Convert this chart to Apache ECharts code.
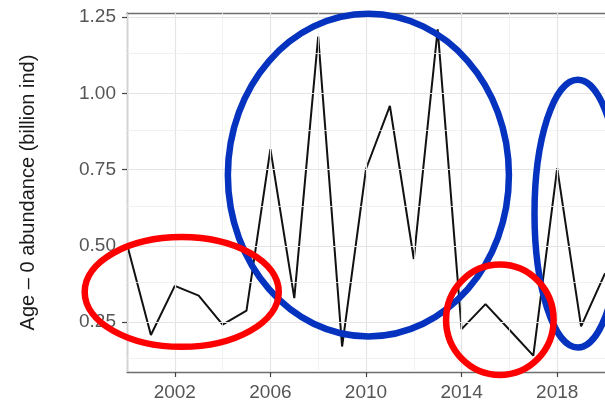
<!DOCTYPE html>
<html><head><meta charset="utf-8">
<script src="https://cdn.jsdelivr.net/npm/echarts@6/dist/echarts.min.js"></script>
<style>html,body{margin:0;padding:0;background:#fff}#c{width:605px;height:410px}</style>
</head><body><div id="c"></div>
<script>
// ---- data ----
const years = [2000,2001,2002,2003,2004,2005,2006,2007,2008,2009,2010,2011,2012,2013,2014,2015,2016,2017,2018,2019,2020];
const abundance = [0.505,0.208,0.369,0.337,0.242,0.288,0.817,0.329,1.186,0.170,0.752,0.959,0.457,1.210,0.227,0.309,0.225,0.140,0.755,0.236,0.41];
const xTickValues = [2002,2006,2010,2014,2018];
const xMinorGrid = [2000,2004,2008,2012,2016,2020];
const yTickValues = [0.25,0.50,0.75,1.00,1.25];
const yMinorGrid = [0.125,0.375,0.625,0.875,1.125];
const yTitle = 'Age \u2013 0 abundance (billion ind)';
// annotation ellipses (data units): centre year, centre value, radius in years, radius in value
const ellipseCX = [2010.10, 2018.86, 2002.29, 2015.60];
const ellipseCY = [0.732, 0.606, 0.349, 0.258];
const ellipseRX = [5.88, 1.81, 4.06, 2.25];
const ellipseRY = [0.529, 0.439, 0.180, 0.181];
const ellipseColor = ['#0532be', '#0532be', '#ff0000', '#ff0000'];

const yMin = 0.0865, yMax = 1.2635;
const xMin = 2000, xMax = 2020;

const chart = echarts.init(document.getElementById('c'), null, {renderer: 'canvas'});
const font = '"Liberation Sans", Arial, Helvetica, sans-serif';

const gridLines = [];
xTickValues.forEach(v => gridLines.push({xAxis: v, lineStyle: {color: '#e4e4e4', width: 1.2, type: 'solid'}}));
xMinorGrid.forEach(v => gridLines.push({xAxis: v, lineStyle: {color: '#ededed', width: 0.8, type: 'solid'}}));
yTickValues.forEach(v => gridLines.push({yAxis: v, lineStyle: {color: '#e4e4e4', width: 1.2, type: 'solid'}}));
yMinorGrid.forEach(v => gridLines.push({yAxis: v, lineStyle: {color: '#ededed', width: 0.8, type: 'solid'}}));

const ellipseSeries = ellipseCX.map((cx, i) => ({
  type: 'custom',
  coordinateSystem: 'cartesian2d',
  clip: false,
  silent: true,
  z: 10 + i,
  data: [[cx, ellipseCY[i], ellipseRX[i], ellipseRY[i]]],
  encode: {x: 0, y: 1},
  renderItem: (params, api) => {
    const c = api.coord([api.value(0), api.value(1)]);
    const s = api.size([api.value(2), api.value(3)]);
    return {
      type: 'ellipse',
      shape: {cx: c[0], cy: c[1], rx: s[0], ry: s[1]},
      style: {fill: 'none', stroke: ellipseColor[i], lineWidth: 6.5}
    };
  }
}));

chart.setOption({
  animation: false,
  backgroundColor: '#ffffff',
  grid: {left: 127, right: 0, top: 13, bottom: 38, containLabel: false},
  xAxis: [{
    type: 'value', min: xMin, max: xMax,
    axisLine: {show: true, lineStyle: {color: '#6e6e6e', width: 1.3}},
    axisTick: {show: true, length: 5, customValues: xTickValues, lineStyle: {color: '#444', width: 1.2}},
    axisLabel: {customValues: xTickValues, margin: 11, color: '#555', fontSize: 19, fontFamily: font, formatter: v => String(v)},
    splitLine: {show: false}
  }, {
    type: 'value', min: xMin, max: xMax, position: 'top',
    axisLine: {show: true, onZero: false, lineStyle: {color: '#6e6e6e', width: 1.3}},
    axisTick: {show: false}, axisLabel: {show: false}, splitLine: {show: false}
  }],
  yAxis: {
    type: 'value', min: yMin, max: yMax,
    name: yTitle, nameLocation: 'middle', nameGap: 89, nameRotate: 90,
    nameTextStyle: {color: '#1a1a1a', fontSize: 20, fontFamily: font},
    axisLine: {show: true, lineStyle: {color: '#6e6e6e', width: 1.3}},
    axisTick: {show: true, length: 5, customValues: yTickValues, lineStyle: {color: '#444', width: 1.2}},
    axisLabel: {customValues: yTickValues, margin: 11, color: '#555', fontSize: 19, fontFamily: font, formatter: v => v.toFixed(2)},
    splitLine: {show: false}
  },
  series: [{
    type: 'line', name: 'grid', data: [], z: 0, silent: true,
    markLine: {silent: true, symbol: ['none', 'none'], label: {show: false}, animation: false, data: gridLines}
  }, {
    type: 'line', name: 'abundance', z: 3,
    data: years.map((y, i) => [y, abundance[i]]),
    showSymbol: false, symbol: 'none',
    lineStyle: {color: '#111', width: 2},
    clip: true
  }].concat(ellipseSeries)
});
</script>
</body></html>
